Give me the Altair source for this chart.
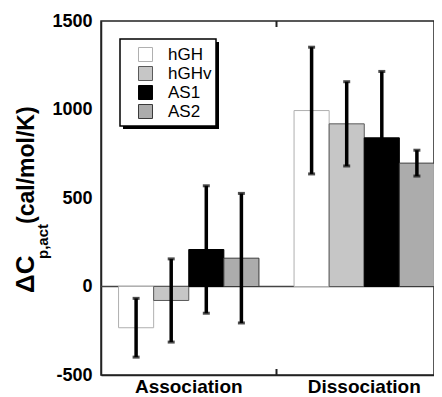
import altair as alt
import pandas as pd

groups = ["Association", "Dissociation"]
series = ["hGH", "hGHv", "AS1", "AS2"]
assoc_vals = [-233, -79, 209, 160]
dissoc_vals = [994, 919, 840, 697]
assoc_err = [166, 235, 360, 366]
dissoc_err = [358, 238, 375, 73]
y_ticks = [-500, 0, 500, 1000, 1500]

fills = ["#ffffff", "#c6c6c6", "#000000", "#acacac"]
strokes = ["#b0b0b0", "#5a5a5a", "#000000", "#3a3a3a"]

rows = []
for g, vals, errs in [(groups[0], assoc_vals, assoc_err), (groups[1], dissoc_vals, dissoc_err)]:
    for s, v, e in zip(series, vals, errs):
        rows.append({"group": g, "series": s, "value": v, "lo": v - e, "hi": v + e})
df = pd.DataFrame(rows)

W, H = 333, 354
FULL_W = 351
FONT = "Liberation Sans"

x_enc = alt.X("group:N", sort=groups,
              scale=alt.Scale(domain=groups, range=[0, FULL_W], paddingInner=0, paddingOuter=0),
              axis=alt.Axis(title=None, labelAngle=0, labelFontSize=19, labelFontWeight="bold",
                            labelColor="#000", ticks=False, labelPadding=17,
                            labelBaseline="alphabetic",
                            domainColor="#222", domainWidth=1.5))
xo_enc = alt.XOffset("series:N", sort=series,
                     scale=alt.Scale(domain=series, paddingOuter=0.5, paddingInner=0))
y_scale = alt.Scale(domain=[-500, 1500], nice=False, zero=False)
y_axis = alt.Axis(title=None, values=y_ticks, ticks=False, grid=False, labelFontSize=18,
                  labelFontWeight="bold", labelColor="#000", labelPadding=9,
                  domainColor="#222", domainWidth=1.5, labelExpr="'' + datum.value")

leg = alt.Legend(title=None, orient="none", legendX=36, legendY=25, symbolType="square",
                 symbolSize=196, symbolStrokeWidth=1, labelFontSize=17, labelFont=FONT,
                 labelColor="#000", labelOffset=14, rowPadding=0, padding=0)

base = alt.Chart(df)

bars = base.mark_bar(strokeWidth=1).encode(
    x=x_enc, xOffset=xo_enc,
    y=alt.Y("value:Q", scale=y_scale, axis=y_axis),
    fill=alt.Fill("series:N", sort=series, scale=alt.Scale(domain=series, range=fills), legend=leg),
    stroke=alt.Stroke("series:N", sort=series, scale=alt.Scale(domain=series, range=strokes), legend=leg),
)

err = base.mark_rule(color="#000", strokeWidth=3.5).encode(
    x=x_enc, xOffset=xo_enc, y=alt.Y("lo:Q", scale=y_scale), y2="hi:Q")
cap_lo = base.mark_tick(color="#000", orient="horizontal", size=7, thickness=3).encode(
    x=x_enc, xOffset=xo_enc, y=alt.Y("lo:Q", scale=y_scale))
cap_hi = base.mark_tick(color="#000", orient="horizontal", size=7, thickness=3).encode(
    x=x_enc, xOffset=xo_enc, y=alt.Y("hi:Q", scale=y_scale))

one = pd.DataFrame({"a": [0]})
zero = alt.Chart(one).mark_rule(color="#444", strokeWidth=1.5).encode(
    y=alt.datum(0, scale=y_scale))

shadow = alt.Chart(one).mark_rect(fill="#000").encode(
    x=alt.value(22), x2=alt.value(118), y=alt.value(21), y2=alt.value(108))
box = alt.Chart(one).mark_rect(fill="#fff", stroke="#000", strokeWidth=1.5).encode(
    x=alt.value(19), x2=alt.value(115), y=alt.value(18), y2=alt.value(105))

tick_top = alt.Chart(one).mark_rule(color="#222", strokeWidth=2).encode(
    x=alt.value(FULL_W / 2), y=alt.value(0), y2=alt.value(6))
tick_bot = alt.Chart(one).mark_rule(color="#222", strokeWidth=2).encode(
    x=alt.value(FULL_W / 2), y=alt.value(H - 6), y2=alt.value(H))

t1 = alt.Chart(one).mark_text(text="ΔC", angle=270, align="left", baseline="alphabetic",
                              font=FONT, fontSize=26, fontWeight="bold", color="#000").encode(
    x=alt.value(-67), y=alt.value(272))
t2 = alt.Chart(one).mark_text(text="p,act", angle=270, align="left", baseline="alphabetic",
                              font=FONT, fontSize=15, fontWeight="bold", color="#000").encode(
    x=alt.value(-53), y=alt.value(238))
t3 = alt.Chart(one).mark_text(text="(cal/mol/K)", angle=270, align="left", baseline="alphabetic",
                              font=FONT, fontSize=23, fontWeight="bold", color="#000").encode(
    x=alt.value(-67), y=alt.value(203))

chart = alt.layer(zero, bars, err, cap_lo, cap_hi, shadow, box, tick_top, tick_bot, t1, t2, t3).properties(
    width=W, height=H,
    autosize=alt.AutoSizeParams(type="none"),
    padding={"left": 93, "top": 13, "right": 0, "bottom": 24},
).configure(font=FONT).configure_view(stroke="#222", strokeWidth=1.5)

chart.save("out.html", embed_options={"renderer": "svg", "actions": False})
